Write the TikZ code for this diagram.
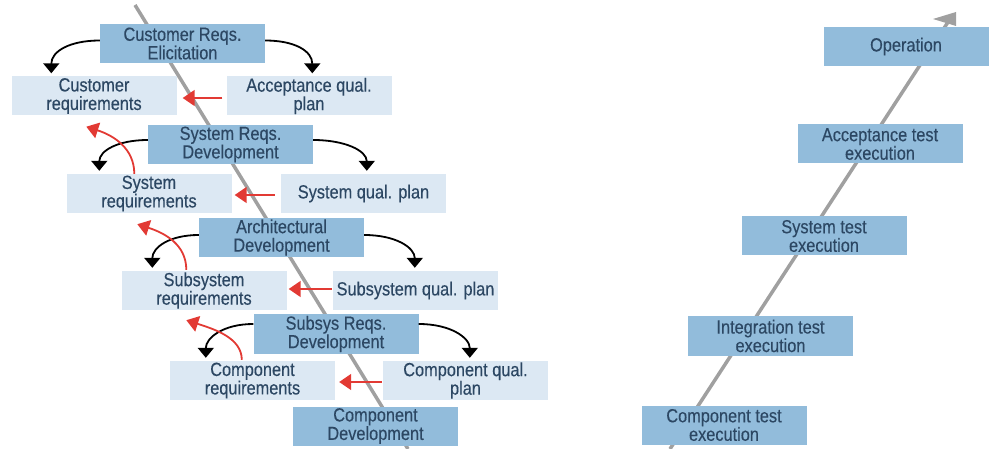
\documentclass[tikz,border=0pt]{standalone}
\usepackage{fontspec}
\setmainfont{Liberation Sans}[FakeStretch=0.86,FakeBold=0.3]
\usetikzlibrary{arrows.meta,calc}
\definecolor{phase}{HTML}{92BCDB}
\definecolor{work}{HTML}{DCE8F3}
\definecolor{ink}{HTML}{2C4763}
\definecolor{rail}{HTML}{A0A0A0}
\definecolor{feedback}{HTML}{E23A34}
\begin{document}
\begin{tikzpicture}[x=1pt,y=-1pt,
  box/.style={minimum width=165pt, minimum height=39pt, inner sep=0pt,
    align=center, text=ink, font=\fontsize{19}{18.5}\selectfont},
  phasebox/.style={box, fill=phase},
  workbox/.style={box, fill=work},
  flow/.style={black, line width=1.8pt, -{Triangle[width=16pt,length=10pt]}},
  back/.style={feedback, line width=1.8pt, -{Triangle[width=16pt,length=12pt]}},
  railline/.style={rail, line width=3.5pt}]

\useasboundingbox (0,0) rectangle (994,449);

% the two legs of the V
\coordinate (lt) at (135,5);
\coordinate (lb) at (408,449);
\coordinate (rb) at (670,449);
\coordinate (rt) at (950,19);
\draw[railline] (lt) -- (lb);
\draw[railline] (rb) -- (rt);
\fill[rail] (933,19) -- (956,12) -- (956,26) -- cycle;

% left leg: development phases and their work products
\node[phasebox] (cre)  at (182.5,43.5) {Customer Reqs.\\Elicitation};
\node[workbox]  (cr)   at (94,96)      {Customer\\requirements};
\node[workbox]  (aqp)  at (309,96)     {Acceptance qual.\\plan};
\node[phasebox] (srd)  at (230.5,144.5){System Reqs.\\Development};
\node[workbox]  (sr)   at (149,193.5)  {System\\requirements};
\node[workbox]  (sqp)  at (363.5,193.5){System qual. plan};
\node[phasebox] (ad)   at (281.5,237.5){Architectural\\Development};
\node[workbox]  (ssr)  at (204,290.5)  {Subsystem\\requirements};
\node[workbox]  (ssqp) at (415.5,290.5){Subsystem qual. plan};
\node[phasebox] (ssd)  at (336,334)    {Subsys Reqs.\\Development};
\node[workbox]  (cpr)  at (252.5,380.5){Component\\requirements};
\node[workbox]  (cqp)  at (465.5,380.5){Component qual.\\plan};
\node[phasebox] (cd)   at (375.5,426)  {Component\\Development};

% right leg: test execution
\node[phasebox] (op)   at (906,46.5)   {Operation};
\node[phasebox] (ate)  at (880,144)    {Acceptance test\\execution};
\node[phasebox] (ste)  at (824,236)    {System test\\execution};
\node[phasebox] (ite)  at (770.5,336)  {Integration test\\execution};
\node[phasebox] (cte)  at (724,425)    {Component test\\execution};

% each phase produces requirements and a qualification plan
\draw[flow] ($(cre.west)+(0,-3)$) .. controls +(-30,0) and +(0,-22) .. ($(cr.north west)+(40,-3)$);
\draw[flow] ($(cre.east)+(0,-3)$) .. controls +(30,0) and +(0,-22) .. ($(aqp.north west)+(86,-3)$);
\draw[flow] ($(srd.west)+(0,-4.5)$) .. controls +(-30,0) and +(0,-20) .. ($(sr.north west)+(33,-3)$);
\draw[flow] ($(srd.east)+(0,-4.5)$) .. controls +(32,0) and +(0,-20) .. ($(sqp.north west)+(86,-3)$);
\draw[flow] ($(ad.west)+(0,-2.5)$) .. controls +(-30,0) and +(0,-20) .. ($(ssr.north west)+(31,-3)$);
\draw[flow] ($(ad.east)+(0,-2.5)$) .. controls +(32,0) and +(0,-20) .. ($(ssqp.north west)+(82,-3)$);
\draw[flow] ($(ssd.west)+(0,-10)$) .. controls +(-30,0) and +(0,-20) .. ($(cpr.north west)+(36,-3)$);
\draw[flow] ($(ssd.east)+(0,-10)$) .. controls +(32,0) and +(0,-20) .. ($(cqp.north west)+(87,-3)$);

% traceback to the level above
\draw[back] ($(sr.north west)+(68,0)$) .. controls +(0,-25) and +(28,9) .. ($(cr.south west)+(75,11)$);
\draw[back] ($(ssr.north west)+(65,-1)$) .. controls +(0,-25) and +(28,9) .. ($(sr.south west)+(71,11)$);
\draw[back] ($(cpr.north west)+(72,-1)$) .. controls +(0,-22) and +(28,9) .. ($(ssr.south west)+(65,10)$);

% qualification plans feed back to the requirements
\draw[back] ($(aqp.west)+(-4,2)$) -- ($(cr.east)+(6,2)$);
\draw[back] ($(sqp.west)+(-6,1.5)$) -- ($(sr.east)+(3,1.5)$);
\draw[back] ($(ssqp.west)+(-1,-1.5)$) -- ($(ssr.east)+(2,-1.5)$);
\draw[back] ($(cqp.west)+(-1,1.5)$) -- ($(cpr.east)+(4,1.5)$);
\end{tikzpicture}
\end{document}
